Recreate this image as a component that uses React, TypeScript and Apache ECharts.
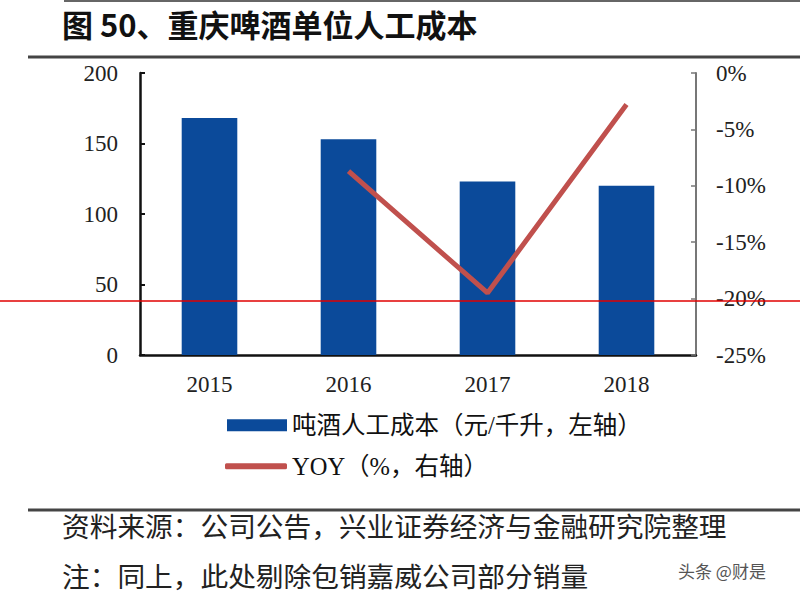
import React, { useEffect, useRef } from "react";
import * as echarts from "echarts";

const categories = ["2015", "2016", "2017", "2018"];
const costValues = [168, 153, 123, 120];
const yoyValues: (number | null)[] = [null, -8.7, -19.5, -2.8];
const barName = "吨酒人工成本（元/千升，左轴）";
const lineName = "YOY（%，右轴）";
const titleText = "图 50、重庆啤酒单位人工成本";
const sourceText = "资料来源：公司公告，兴业证券经济与金融研究院整理";
const noteText = "注：同上，此处剔除包销嘉威公司部分销量";
const watermark = "头条 @财是";

const SERIF = "'Liberation Serif', 'Times New Roman', 'Noto Sans CJK SC', serif";
const CJK = "'Noto Sans CJK SC', sans-serif";

export default function App() {
  const ref = useRef<HTMLDivElement>(null);
  useEffect(() => {
    if (!ref.current) return;
    const chart = echarts.init(ref.current, undefined, { renderer: "svg" });
    chart.setOption({
      animation: false,
      backgroundColor: "#ffffff",
      grid: { left: 140, right: 104, top: 73, bottom: 245 },
      xAxis: {
        type: "category",
        data: categories,
        axisLine: { show: true, lineStyle: { color: "#111", width: 2.5 } },
        axisTick: { show: false },
        axisLabel: { color: "#222", fontSize: 23, fontFamily: SERIF, margin: 18 },
      },
      yAxis: [
        {
          type: "value",
          min: 0,
          max: 200,
          interval: 50,
          position: "left",
          splitLine: { show: false },
          axisLine: { show: true, lineStyle: { color: "#111", width: 2.5 } },
          axisTick: { show: true, inside: true, length: 5, lineStyle: { color: "#111", width: 2 } },
          axisLabel: { color: "#222", fontSize: 23, fontFamily: SERIF, margin: 22 },
        },
        {
          type: "value",
          min: -25,
          max: 0,
          interval: 5,
          position: "right",
          splitLine: { show: false },
          axisLine: { show: true, lineStyle: { color: "#777", width: 2 } },
          axisTick: { show: true, inside: true, length: 5, lineStyle: { color: "#777", width: 1.5 } },
          axisLabel: { color: "#222", fontSize: 23, fontFamily: SERIF, margin: 20, formatter: "{value}%" },
        },
      ],
      legend: [
        {
          data: [{ name: barName, icon: "rect" }],
          left: 222,
          top: 408,
          itemWidth: 60,
          itemHeight: 12,
          textStyle: { color: "#111", fontSize: 24.5, fontFamily: SERIF },
        },
        {
          data: [{ name: lineName, icon: "roundRect" }],
          left: 220,
          top: 449,
          itemWidth: 62,
          itemHeight: 6,
          textStyle: { color: "#111", fontSize: 24.5, fontFamily: SERIF },
        },
      ],
      series: [
        {
          name: barName,
          type: "bar",
          yAxisIndex: 0,
          data: costValues,
          barWidth: "40%",
          itemStyle: { color: "#0b4a9a" },
        },
        {
          name: lineName,
          type: "line",
          yAxisIndex: 1,
          data: yoyValues,
          showSymbol: false,
          symbol: "none",
          lineStyle: { color: "#c0504d", width: 5 },
          itemStyle: { color: "#c0504d" },
        },
      ],
      graphic: [
        { type: "line", shape: { x1: 64, y1: 1, x2: 800, y2: 1 }, style: { stroke: "#666", lineWidth: 2 } },
        {
          type: "text",
          left: 62,
          top: 7,
          style: { text: titleText, fontSize: 31, lineHeight: 32, fontWeight: "bold", fontFamily: CJK, fill: "#111" },
        },
        { type: "line", shape: { x1: 28, y1: 57, x2: 800, y2: 57 }, style: { stroke: "#444", lineWidth: 3 } },
        { type: "line", shape: { x1: 28, y1: 510, x2: 800, y2: 510 }, style: { stroke: "#444", lineWidth: 3 } },
        {
          type: "text",
          left: 62,
          top: 511,
          style: { text: sourceText, fontSize: 27.7, fontFamily: CJK, fill: "#222" },
        },
        {
          type: "text",
          left: 62,
          top: 561,
          style: { text: noteText, fontSize: 27.7, fontFamily: CJK, fill: "#222" },
        },
        {
          type: "text",
          left: 678,
          top: 562,
          style: { text: watermark, fontSize: 17, fontFamily: CJK, fill: "#555" },
        },
        {
          type: "line",
          z: 100,
          shape: { x1: 0, y1: 301, x2: 800, y2: 301 },
          style: { stroke: "#e00000", lineWidth: 1.5 },
        },
      ],
    });
    return () => chart.dispose();
  }, []);
  return (
    <div
      ref={ref}
      style={{ position: "fixed", left: 0, top: 0, width: 800, height: 600, background: "#fff" }}
    />
  );
}
